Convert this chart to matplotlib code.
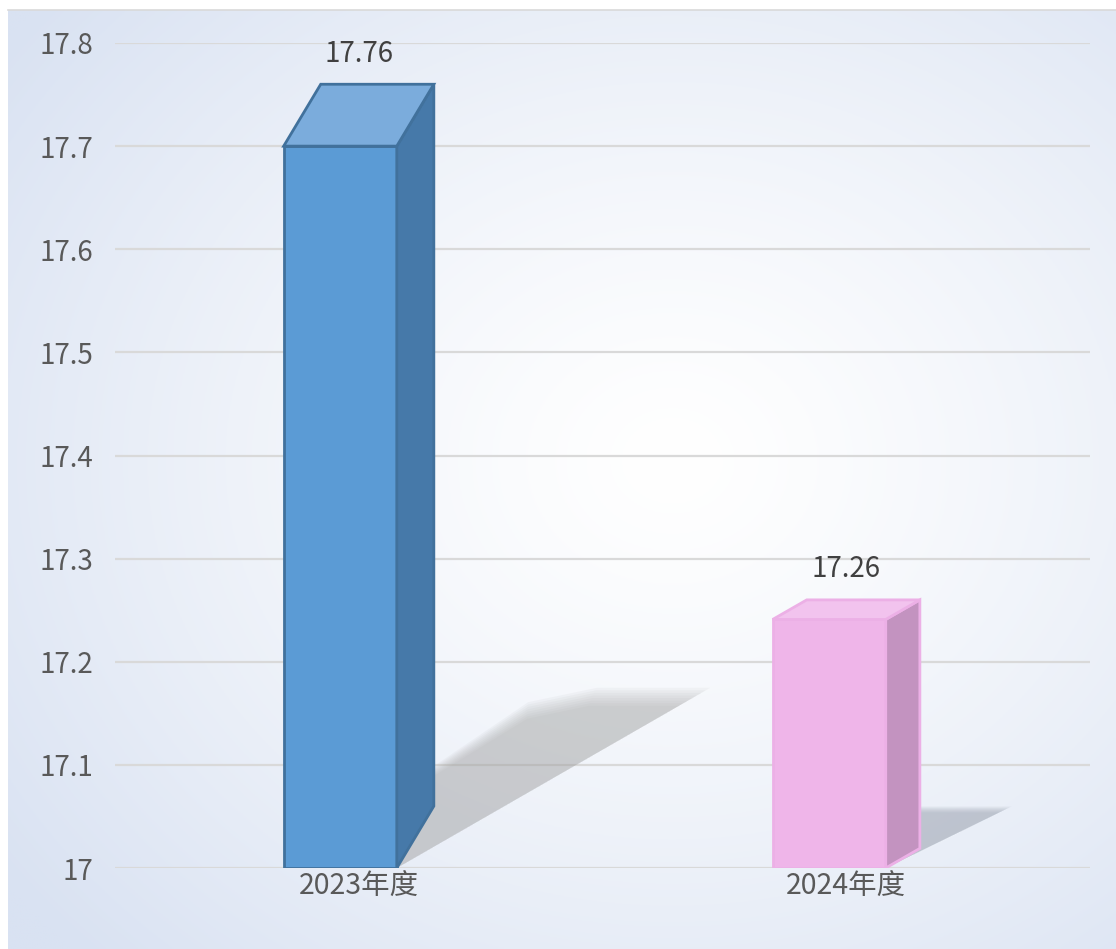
import numpy as np
import matplotlib.pyplot as plt
from matplotlib.patches import Polygon

plt.rcParams['font.family'] = ['Noto Sans CJK SC', 'DejaVu Sans']

# data
categories = ["2023年度", "2024年度"]
values = [17.76, 17.26]
y_ticks = [17.0, 17.1, 17.2, 17.3, 17.4, 17.5, 17.6, 17.7, 17.8]
y_tick_labels = ["17", "17.1", "17.2", "17.3", "17.4", "17.5", "17.6", "17.7", "17.8"]

# styles for the fake 3d boxes
front_colors = ["#5b9bd5", "#efb5e9"]
top_colors = ["#7bacdc", "#f2c3ee"]
side_colors = ["#4679a9", "#c393c0"]
edge_colors = ["#41719c", "#ecb0e6"]
shadow_colors = ["#a0a0a0", "#8e97a6"]
# depth offset of each box (x in category units, y in value units)
depth_dx = [0.076, 0.070]
depth_dy = [0.060, 0.019]
# how far the shadow is thrown, relative to bar height
shadow_kx = [0.40, 0.47]
bar_width = 0.232
y_base = 17.0
text_color = "#595959"

W, H = 1116, 949
fig = plt.figure(figsize=(W / 100, H / 100), dpi=100)
fig.patch.set_facecolor("white")

# background with soft radial gradient
bg = fig.add_axes([8 / W, 0, 1 - 8 / W, 1 - 10 / H])
gx, gy = np.meshgrid(np.linspace(0, 1, 400), np.linspace(0, 1, 400))
r = np.sqrt(((gx - 0.6) / 0.75) ** 2 + ((gy - 0.52) / 0.75) ** 2)
r = np.clip(r, 0, 1) ** 1.3
c_in = np.array([1.0, 1.0, 1.0])
c_out = np.array([0xd9, 0xe2, 0xf2]) / 255
img = c_in[None, None, :] * (1 - r[..., None]) + c_out[None, None, :] * r[..., None]
bg.imshow(img, extent=[0, 1, 0, 1], aspect="auto", origin="lower")
bg.set_axis_off()
fig.add_artist(plt.Line2D([8 / W, 1], [1 - 10 / H, 1 - 10 / H], color="#d9d9d9", lw=1.2))

ax = fig.add_axes([115 / W, (H - 868) / H, 975 / W, 825 / H])
ax.set_facecolor("none")
ax.set_xlim(-0.5, 1.5)
ax.set_ylim(17.0, 17.8)
for s in ax.spines.values():
    s.set_visible(False)
ax.tick_params(length=0)
ax.set_yticks(y_ticks)
ax.set_yticklabels(y_tick_labels, fontsize=20, color=text_color, fontweight="light")
ax.tick_params(axis="y", pad=16)
x = np.arange(len(categories))
ax.set_xticks(x)
ax.set_xticklabels(categories, fontsize=20.5, color=text_color, fontweight="light")
ax.tick_params(axis="x", pad=3)
for t in y_ticks:
    ax.axhline(t, color="#d9d9d9", lw=1.6, zorder=1)

# unit ratio so the shadow is projected in screen proportions
px_x = 975 / 2.0
px_y = 825 / 0.8

for i, v in enumerate(values):
    dx, dy = depth_dx[i], depth_dy[i]
    xl = x[i] - (bar_width + dx) / 2
    xr = xl + bar_width
    front_top = v - dy
    h = v - y_base

    # soft shadow of the front face thrown to the upper right
    sx = shadow_kx[i] * h * px_y / px_x
    sy = 0.23 * h
    pts = np.array([
        [xl, y_base],
        [xr, y_base],
        [xr + sx, y_base + sy],
        [xl + sx, y_base + sy],
        [xl + sx * 0.78, y_base + sy * 0.92],
    ])
    anchor = np.array([xr, y_base])
    for shrink in np.linspace(1.0, 0.9, 8):
        p = pts.copy()
        # pull the far end in a little on each layer to fake a blur
        p[2:] = anchor + (p[2:] - anchor) * shrink
        p[3:, 0] += (1 - shrink) * 0.25
        ax.add_patch(Polygon(p, closed=True, facecolor=shadow_colors[i], edgecolor="none",
                             alpha=0.075, zorder=2))

    # front face
    ax.bar(xl, front_top - y_base, width=bar_width, bottom=y_base, align="edge",
           color=front_colors[i], edgecolor=edge_colors[i], lw=2, zorder=3)
    # side face
    side = [[xr, y_base], [xr + dx, y_base + dy], [xr + dx, v], [xr, front_top]]
    ax.add_patch(Polygon(side, closed=True, facecolor=side_colors[i],
                         edgecolor=edge_colors[i], lw=2, zorder=3))
    # top face
    top = [[xl, front_top], [xr, front_top], [xr + dx, v], [xl + dx, v]]
    ax.add_patch(Polygon(top, closed=True, facecolor=top_colors[i],
                         edgecolor=edge_colors[i], lw=2, zorder=3))

    ax.annotate(f"{v:.2f}", (x[i], v), xytext=(0, 22), textcoords="offset points",
                ha="center", va="center", fontsize=20, color="#404040",
                fontweight="light", zorder=5)

fig.savefig("out.png", dpi=100)
